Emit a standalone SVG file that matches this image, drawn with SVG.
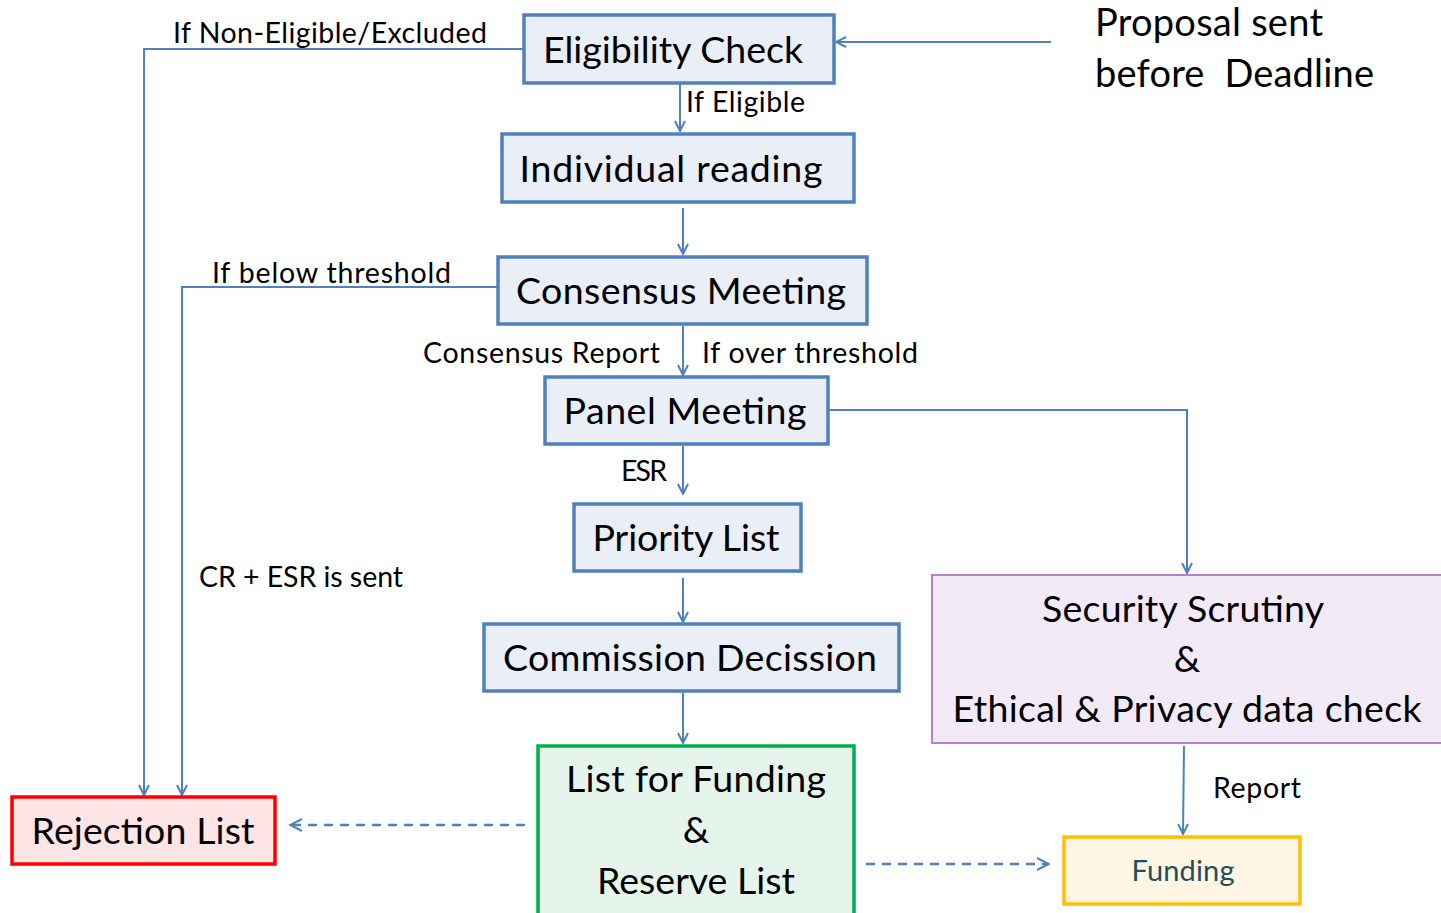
<svg xmlns="http://www.w3.org/2000/svg" width="1441" height="913" viewBox="0 0 1441 913">
<style>
.box{fill:#e9eef7;stroke:#4f81bd;stroke-width:3.5}
.t{font-family:Lato,"Open Sans",sans-serif;fill:#000;text-anchor:middle}
.big{font-size:37.5px}
.lbl{font-family:Lato,"Open Sans",sans-serif;font-size:28.5px;fill:#000}
.c{fill:none;stroke:#4f81bd;stroke-width:2}
.d{fill:none;stroke:#4f81bd;stroke-width:2.5;stroke-dasharray:9,7}
</style>
<defs>
<marker id="a" viewBox="0 0 12 12" refX="11" refY="6" markerWidth="12" markerHeight="12" markerUnits="userSpaceOnUse" orient="auto">
<path d="M1,1 L11,6 L1,11" fill="none" stroke="#4f81bd" stroke-width="2"/>
</marker>
<marker id="b" viewBox="0 0 14 14" refX="13" refY="7" markerWidth="14" markerHeight="14" markerUnits="userSpaceOnUse" orient="auto">
<path d="M1,1 L13,7 L1,13" fill="none" stroke="#4f81bd" stroke-width="2"/>
</marker>
</defs>
<rect width="1441" height="913" fill="#fff"/>
<g id="connectors">
<path class="c" d="M1051,42 L836,42" marker-end="url(#a)"/>
<path class="c" d="M524,49 L144,49 L144,795" marker-end="url(#a)"/>
<path class="c" d="M680,84 L680,131" marker-end="url(#a)"/>
<path class="c" d="M683,208 L683,254" marker-end="url(#a)"/>
<path class="c" d="M498,287 L182,287 L182,795" marker-end="url(#a)"/>
<path class="c" d="M683,326 L683,375" marker-end="url(#a)"/>
<path class="c" d="M829,410 L1187,410 L1187,573" marker-end="url(#a)"/>
<path class="c" d="M683,446 L683,494" marker-end="url(#a)"/>
<path class="c" d="M683,578 L683,622" marker-end="url(#a)"/>
<path class="c" d="M683,693 L683,743" marker-end="url(#a)"/>
<path class="c" d="M1184,746 L1183,834" marker-end="url(#a)"/>
<path class="d" d="M525,825 L290,825" marker-end="url(#b)"/>
<path class="d" d="M866,864 L1049,864" marker-end="url(#b)"/>
<text class="lbl" x="173" y="43" textLength="314">If Non-Eligible/Excluded</text>
<text class="lbl" x="686" y="112" textLength="119">If Eligible</text>
<text class="lbl" x="212" y="283" textLength="239">If below threshold</text>
<text class="lbl" x="423" y="363" textLength="237">Consensus Report</text>
<text class="lbl" x="702" y="363" textLength="216">If over threshold</text>
<text class="lbl" x="621" y="481" textLength="46">ESR</text>
<text class="lbl" x="199" y="587" textLength="204">CR + ESR is sent</text>
<text class="lbl" x="1213" y="798" textLength="88">Report</text>
</g>
<g id="proposal">
<text class="lbl" style="font-size:38px" x="1095" y="36" textLength="228">Proposal sent</text>
<text class="lbl" style="font-size:38px" x="1095" y="87" textLength="279" xml:space="preserve">before  Deadline</text>
</g>
<g id="eligibility"><rect class="box" x="524" y="15" width="310" height="68"/><text class="t big" x="673" y="63" textLength="260">Eligibility Check</text></g>
<g id="individual"><rect class="box" x="502" y="134" width="352" height="68"/><text class="t big" x="671" y="182" textLength="303">Individual reading</text></g>
<g id="consensus"><rect class="box" x="498" y="257" width="369" height="67"/><text class="t big" x="681" y="304" textLength="330">Consensus Meeting</text></g>
<g id="panel"><rect class="box" x="545" y="377" width="283" height="67"/><text class="t big" x="685" y="424" textLength="243">Panel Meeting</text></g>
<g id="priority"><rect class="box" x="574" y="504" width="227" height="67"/><text class="t big" x="686" y="551" textLength="187">Priority List</text></g>
<g id="commission"><rect class="box" x="484" y="624" width="415" height="67"/><text class="t big" x="690" y="671" textLength="374">Commission Decission</text></g>
<g id="funding-list"><rect x="538" y="746" width="316" height="170" fill="#e6f5ec" stroke="#00b050" stroke-width="3.5"/>
<text class="t big" x="696" y="792" textLength="260">List for Funding</text><text class="t big" x="696" y="843">&amp;</text><text class="t big" x="696" y="894" textLength="198">Reserve List</text></g>
<g id="security"><rect x="932" y="575" width="515" height="168" fill="#f3eaf7" stroke="#b77fd1" stroke-width="2"/>
<text class="t big" x="1183" y="622" textLength="282">Security Scrutiny</text><text class="t big" x="1187" y="672">&amp;</text><text class="t big" x="1187" y="722" textLength="469">Ethical &amp; Privacy data check</text></g>
<g id="rejection"><rect x="12" y="797" width="263" height="67" fill="#fde5e5" stroke="#ff0000" stroke-width="3.5"/><text class="t big" x="143" y="844" textLength="223">Rejection List</text></g>
<g id="funding"><rect x="1064" y="837" width="236" height="67" fill="#fff5e3" stroke="#ffc000" stroke-width="3.5"/><text class="t" style="font-size:29px;fill:#1f4e5f" x="1183" y="881" textLength="103">Funding</text></g>
</svg>
